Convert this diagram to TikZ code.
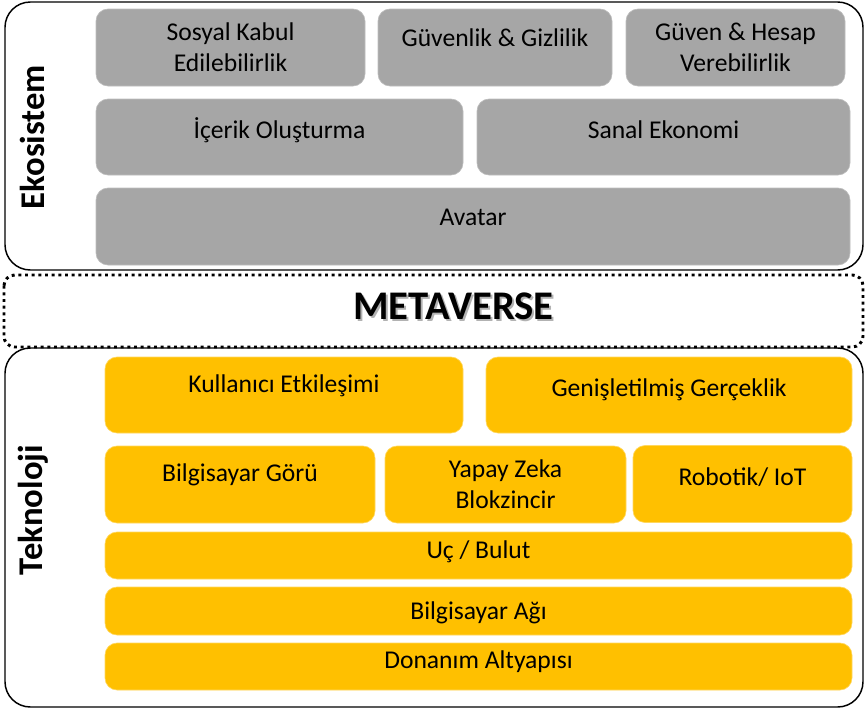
\documentclass[tikz,border=0pt]{standalone}
\usepackage{fontspec}
\setmainfont{Carlito}
\usepackage{tikz}
\usetikzlibrary{positioning}
\definecolor{ecoGray}{HTML}{A6A6A6}
\definecolor{ecoEdge}{HTML}{BDBDBD}
\definecolor{tekGold}{HTML}{FFC000}
\definecolor{tekEdge}{HTML}{FFD75E}
\begin{document}
\begin{tikzpicture}[
  x=0.75pt,y=-0.75pt,
  font=\fontsize{19.2}{23.5}\selectfont,
  layer/.style={draw=black,line width=1.1pt,rounded corners=19pt},
  side/.style={rotate=90,font=\fontsize{26}{30}\selectfont\bfseries},
  gbox/.style={draw=ecoEdge,line width=0.5pt,fill=ecoGray,rounded corners=9pt,
               inner sep=0pt,align=center,text=black},
  ybox/.style={draw=tekEdge,line width=0.5pt,fill=tekGold,rounded corners=9pt,
               inner sep=0pt,align=center,text=black},
  lift/.style={text height=13.5pt,text depth=#1},
  meta/.style={draw=black,line width=2.2pt,dash pattern=on 2.2pt off 2.8pt,rounded corners=8pt}
]
\useasboundingbox (0,0) rectangle (865,711);

% outer layers
\draw[layer] (5,2) rectangle (863,270);
\draw[layer] (5,348) rectangle (863,707);
\draw[meta]  (4,275) rectangle (863,347);

\node[side] (eko) at (32,137) {Ekosistem};
\node[side] (tek) at (33,510) {Teknoloji};

% ecosystem
\node[gbox,minimum width=201.75pt,minimum height=57.75pt] (sosyal)   at (230.5,47.5) {Sosyal Kabul\\Edilebilirlik};
\node[gbox,lift=15.6pt,minimum width=175.5pt,minimum height=57.75pt]  (guvenlik) at (495,47.5) {Güvenlik \& Gizlilik};
\node[gbox,minimum width=164.25pt,minimum height=57.75pt] (hesap)    at (735.5,47.5) {Güven \& Hesap\\Verebilirlik};
\node[gbox,lift=11.1pt,minimum width=275.25pt,minimum height=57pt]    (icerik) at (279.5,137) {İçerik Oluşturma};
\node[gbox,lift=11.1pt,minimum width=279.75pt,minimum height=57pt]    (sanal)  at (663.5,137) {Sanal Ekonomi};
\node[gbox,lift=15.6pt,minimum width=565.5pt,minimum height=57.75pt]  (avatar) at (473,226.5) {Avatar};

% metaverse
\node[text=black!30,font=\fontsize{30.5}{34}\selectfont\bfseries] (metashadow) at (455.5,308) {METAVERSE};
\node[font=\fontsize{30.5}{34}\selectfont\bfseries] (metaverse) at (453.5,306) {METAVERSE};

% technology
\node[ybox,lift=17.1pt,minimum width=268.5pt,minimum height=57pt]    (kullanici) at (284,395)     {Kullanıcı Etkileşimi};
\node[ybox,lift=11.1pt,minimum width=274.5pt,minimum height=57pt]    (genis)     at (669,395)     {Genişletilmiş Gerçeklik};
\node[ybox,lift=18.6pt,minimum width=202.5pt,minimum height=57.75pt] (goru)      at (240,484.5)   {Bilgisayar Görü};
\node[ybox,minimum width=180.75pt,minimum height=57.75pt]            (yapay)     at (505.5,484.5) {Yapay Zeka\\Blokzincir};
\node[ybox,lift=11.1pt,minimum width=164.25pt,minimum height=57.75pt](robotik)   at (742.5,484)   {Robotik/ IoT};
\node[ybox,lift=9.6pt,minimum width=560.25pt,minimum height=35.25pt] (bulut)     at (478.5,555.5) {Uç / Bulut};
\node[ybox,lift=1.5pt,minimum width=560.25pt,minimum height=36pt]    (ag)        at (478.5,611)   {Bilgisayar Ağı};
\node[ybox,lift=11.1pt,minimum width=560.25pt,minimum height=35.25pt](donanim)   at (478.5,666.5) {Donanım Altyapısı};
\end{tikzpicture}
\end{document}
